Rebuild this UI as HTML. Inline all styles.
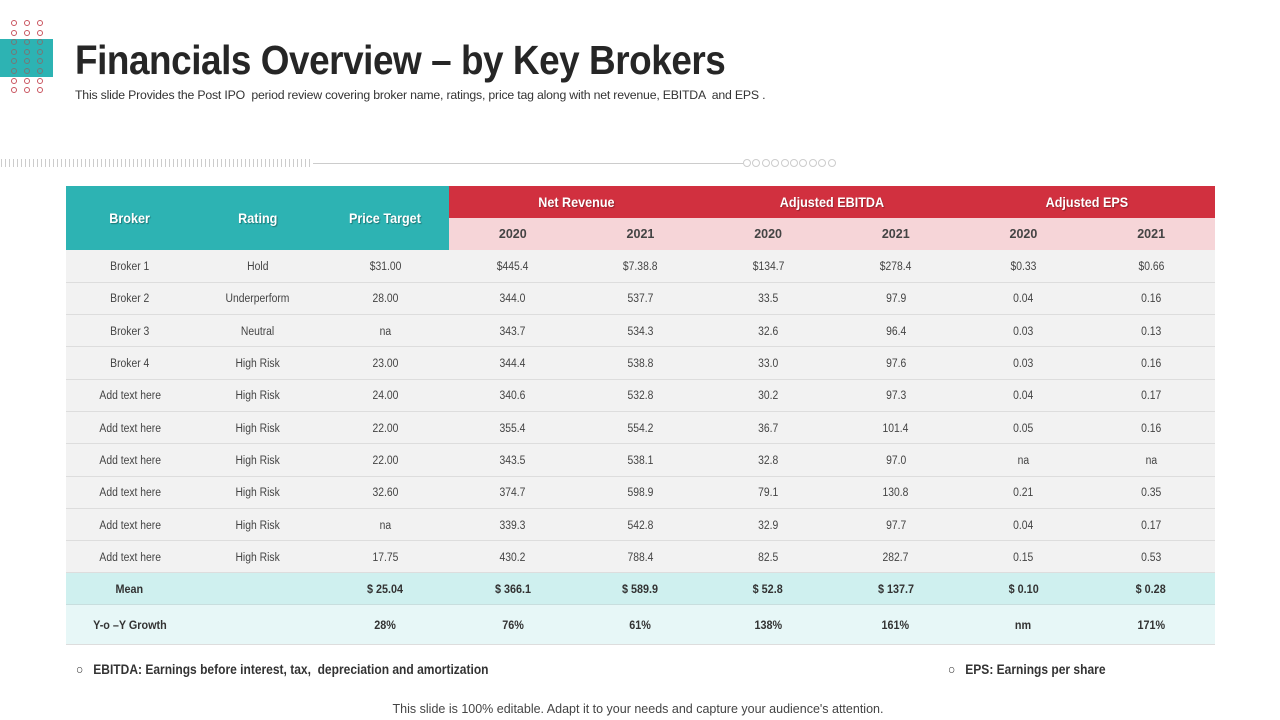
<!DOCTYPE html>
<html><head><meta charset="utf-8">
<style>
*{margin:0;padding:0;box-sizing:border-box}
body{width:1280px;height:720px;background:#fff;position:relative;overflow:hidden;font-family:"Liberation Sans",sans-serif}
.abs{position:absolute}
#title{left:75px;top:37px;font-weight:bold;font-size:41px;color:#262626;white-space:nowrap;transform:scaleX(0.9);transform-origin:left top;letter-spacing:-0.5px}
#sub{left:75px;top:88px;font-size:12.3px;color:#333;letter-spacing:-0.2px;white-space:nowrap}
table{position:absolute;left:66px;top:186px;width:1149px;border-collapse:collapse;table-layout:fixed}
td,th{text-align:center;font-size:12.5px;color:#444;padding:0}
th{font-weight:bold}
.hdT{background:#2db3b3;color:#fff;font-size:14px;text-shadow:1px 1px 1px rgba(0,0,0,.35)}
.hdR{background:#d1303f;color:#fff;font-size:14px;height:32px;text-shadow:1px 1px 1px rgba(0,0,0,.3)}
.hdY{background:#f6d5d8;color:#444;height:32px;font-size:12.5px}
tr.d td{background:#f2f2f2;height:32.3px;border-bottom:1.5px solid #ddd;font-size:11.5px;padding-top:2px}
tr.m td{background:#cff0ef;height:32px;font-weight:bold;color:#333;font-size:12px;border-bottom:1px solid #c8dede;padding-top:1px}
tr.g td{background:#e7f7f7;height:40px;font-weight:bold;color:#333;font-size:12px;border-bottom:1px solid #ddd;padding-top:1px}
.sq{display:inline-block;transform:scaleX(0.9)}
.note{font-weight:bold;font-size:13.5px;color:#333;white-space:nowrap;transform:scaleX(0.89);transform-origin:left top}
.dot{width:6px;height:6px;border:1px solid #c9545f;border-radius:50%}
</style></head><body>
<div class="abs" style="left:0;top:39px;width:53px;height:38px;background:#2db3b3"></div>
<div id="dots"></div>
<div id="title" class="abs">Financials Overview – by Key Brokers</div>
<div id="sub" class="abs">This slide Provides the Post IPO &nbsp;period review covering broker name, ratings, price tag along with net revenue, EBITDA &nbsp;and EPS .</div>
<div class="abs" style="left:1px;top:159px;width:312px;height:8px;background:repeating-linear-gradient(90deg,#ccc 0 1px,transparent 1px 4px)"></div>
<div class="abs" style="left:313px;top:163px;width:430px;height:1px;background:#ccc"></div>
<div id="circ"></div>
<table>
<colgroup><col span="9" style="width:127.67px"></colgroup>
<thead>
<tr><th class="hdT" rowspan="2"><span class="sq">Broker</span></th><th class="hdT" rowspan="2"><span class="sq">Rating</span></th><th class="hdT" rowspan="2"><span class="sq">Price Target</span></th>
<th class="hdR" colspan="2"><span class="sq">Net Revenue</span></th><th class="hdR" colspan="2"><span class="sq">Adjusted EBITDA</span></th><th class="hdR" colspan="2"><span class="sq">Adjusted EPS</span></th></tr>
<tr><th class="hdY">2020</th><th class="hdY">2021</th><th class="hdY">2020</th><th class="hdY">2021</th><th class="hdY">2020</th><th class="hdY">2021</th></tr>
</thead>
<tbody id="tb"></tbody>
</table>
<div class="abs note" style="left:76px;top:662px">○ &nbsp;&nbsp;EBITDA: Earnings before interest, tax, &nbsp;depreciation and amortization</div>
<div class="abs note" style="left:948px;top:662px">○ &nbsp;&nbsp;EPS: Earnings per share</div>
<div class="abs" style="left:0;width:1276px;top:702px;text-align:center;font-size:12.5px;color:#444">This slide is 100% editable. Adapt it to your needs and capture your audience's attention.</div>
<script>
const brokers=["Broker 1","Broker 2","Broker 3","Broker 4","Add text here","Add text here","Add text here","Add text here","Add text here","Add text here"];
const ratings=["Hold","Underperform","Neutral","High Risk","High Risk","High Risk","High Risk","High Risk","High Risk","High Risk"];
const priceTarget=["$31.00","28.00","na","23.00","24.00","22.00","22.00","32.60","na","17.75"];
const rev2020=["$445.4","344.0","343.7","344.4","340.6","355.4","343.5","374.7","339.3","430.2"];
const rev2021=["$7.38.8","537.7","534.3","538.8","532.8","554.2","538.1","598.9","542.8","788.4"];
const ebitda2020=["$134.7","33.5","32.6","33.0","30.2","36.7","32.8","79.1","32.9","82.5"];
const ebitda2021=["$278.4","97.9","96.4","97.6","97.3","101.4","97.0","130.8","97.7","282.7"];
const eps2020=["$0.33","0.04","0.03","0.03","0.04","0.05","na","0.21","0.04","0.15"];
const eps2021=["$0.66","0.16","0.13","0.16","0.17","0.16","na","0.35","0.17","0.53"];
const meanRow=["Mean","","$ 25.04","$ 366.1","$ 589.9","$ 52.8","$ 137.7","$ 0.10","$ 0.28"];
const growthRow=["Y-o –Y Growth","","28%","76%","61%","138%","161%","nm","171%"];
const tb=document.getElementById('tb');
function addRow(cells,cls,name){
  const tr=document.createElement('tr');tr.className=cls;
  
  
  cells.forEach(c=>{const td=document.createElement('td');const s=document.createElement('span');s.className='sq';s.textContent=c;td.appendChild(s);tr.appendChild(td);});
  tb.appendChild(tr);
}
for(let i=0;i<brokers.length;i++){
  addRow([brokers[i],ratings[i],priceTarget[i],rev2020[i],rev2021[i],ebitda2020[i],ebitda2021[i],eps2020[i],eps2021[i]],'d','broker-row');
}
addRow(meanRow,'m','mean-row');
addRow(growthRow,'g','growth-row');
const dots=document.getElementById('dots');
for(let r=0;r<8;r++)for(let c=0;c<3;c++){
  const d=document.createElement('div');d.className='abs dot';
  
  
  d.style.left=(11+c*13)+'px';d.style.top=(20+r*9.6)+'px';
  if(r>=2&&r<=5)d.style.borderColor='#777';
  dots.appendChild(d);
}
const circ=document.getElementById('circ');
for(let i=0;i<10;i++){
  const d=document.createElement('div');d.className='abs';
  
  
  d.style.cssText='left:'+(743+i*9.4)+'px;top:159px;width:8px;height:8px;border:1px solid #ccc;border-radius:50%';
  circ.appendChild(d);
}
</script>
</body></html>
